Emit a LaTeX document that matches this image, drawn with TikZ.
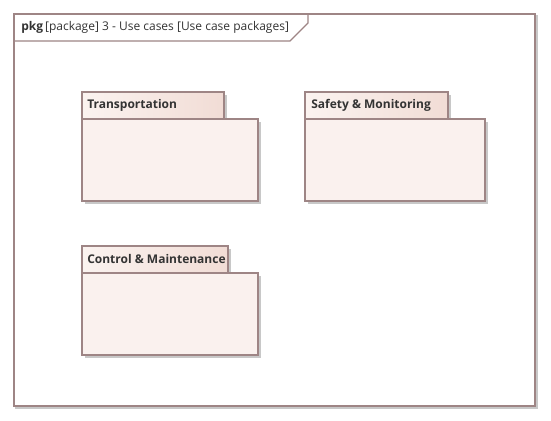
\documentclass[tikz,border=0pt]{standalone}
\usepackage{fontspec}
\setmainfont{Open Sans}
\begin{document}
\begin{tikzpicture}[x=0.75pt,y=-0.75pt,
  bord/.style={draw=brd,line width=0.9pt},
  shad/.style={draw=none,fill=shd},
  lbl/.style={font=\fontsize{9}{11}\selectfont\bfseries,text=txt,anchor=west,inner sep=0pt}]
\definecolor{brd}{HTML}{9E8585}
\definecolor{shd}{HTML}{C8C8C8}
\definecolor{bodyf}{HTML}{FAF1EE}
\definecolor{tabl}{HTML}{FBF3F0}
\definecolor{tabr}{HTML}{F1DCD5}
\definecolor{txt}{HTML}{333333}
\useasboundingbox (0,0) rectangle (551,421);
\fill[white] (0,0) rectangle (551,421);
% frame
\draw[shd,line width=1.5pt] (16,16) rectangle (537,408);
\draw[bord,fill=white] (14,14) rectangle (535,406);
\draw[bord] (14,41) -- (290,41) -- (308,23) -- (308,14);
\node[anchor=west,inner sep=0pt,font=\fontsize{9}{11}\selectfont,text=txt] (title) at (21,27) {\textbf{pkg}\,[package] 3 - Use cases [Use case packages]};
% package macro
\newcommand\pkgbox[7]{%
  % #1 name, #2 x0, #3 ytab, #4 xtab, #5 ybody, #6 xright, #7 ybottom
  \fill[shd] (#2+3,#3+3) rectangle (#4+3,#5+3);
  \fill[shd] (#2+3,#5+3) rectangle (#6+3,#7+3);
  \draw[bord,fill=bodyf] (#2,#5) rectangle (#6,#7);
  \draw[bord,left color=tabl,right color=tabr] (#2,#3) rectangle (#4,#5);
}
\pkgbox{t}{82}{92}{224}{119}{258}{201}
\node[lbl] (tr) at (87,105) {Transportation};
\pkgbox{s}{305}{92}{448}{119}{485}{201}
\node[lbl] (sm) at (311,105) {Safety \& Monitoring};
\pkgbox{c}{82}{246}{228}{273}{258}{355}
\node[lbl] (cm) at (87,259) {Control \& Maintenance};
\end{tikzpicture}
\end{document}
